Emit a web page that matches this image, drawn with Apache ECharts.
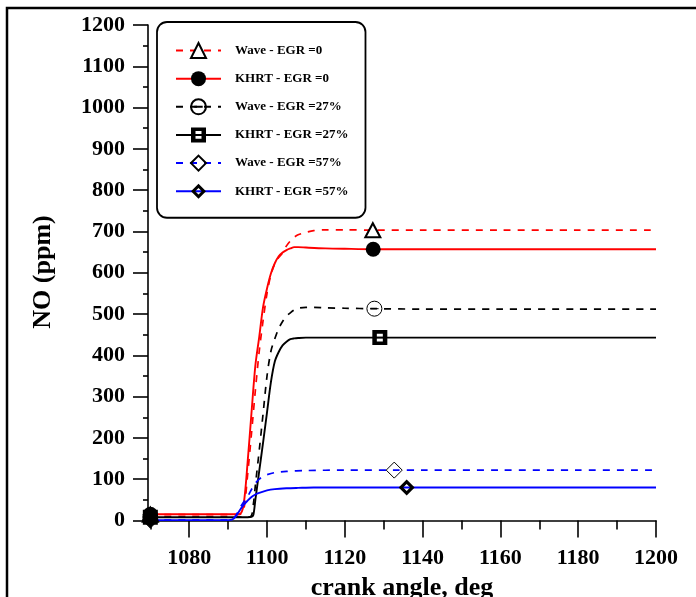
<!DOCTYPE html>
<html>
<head>
<meta charset="utf-8">
<script src="https://cdn.jsdelivr.net/npm/echarts@6/dist/echarts.min.js"></script>
<style>
  html, body { margin: 0; padding: 0; background: #fff; }
  #chart { width: 696px; height: 597px; }
</style>
</head>
<body>
<div id="chart"></div>
<script>
// NO concentration vs crank angle for three EGR rates, Wave and KHRT breakup models

const seriesNames = [
  'Wave - EGR =0', 'KHRT - EGR =0',
  'Wave - EGR =27%', 'KHRT - EGR =27%',
  'Wave - EGR =57%', 'KHRT - EGR =57%'
];

const xMajorTicks = [1080, 1100, 1120, 1140, 1160, 1180, 1200];
const xMinorTicks = [1070, 1090, 1110, 1130, 1150, 1170, 1190];

// Wave - EGR = 0
const waveEgr0Angle = [1070, 1080, 1090, 1093, 1094, 1095, 1096, 1097, 1098, 1099, 1100, 1101, 1102, 1103, 1104, 1105, 1106, 1107, 1108, 1110, 1112, 1115, 1120, 1127.2, 1140, 1160, 1180, 1200];
const waveEgr0NO    = [14, 14, 14, 15, 25, 110, 210, 315, 410, 485, 550, 595, 622, 637, 648, 665, 677, 686, 692, 698, 702, 704, 704, 703, 703, 703, 703, 703];
const waveEgr0Marks = [1070, 1127.2];

// KHRT - EGR = 0
const khrtEgr0Angle = [1070, 1080, 1090, 1093, 1094, 1095, 1096, 1097, 1098, 1099, 1100, 1101, 1102, 1103, 1104, 1105, 1106, 1107, 1108, 1110, 1115, 1120, 1127.3, 1140, 1160, 1180, 1200];
const khrtEgr0NO    = [15, 15, 15, 16, 40, 140, 260, 375, 445, 518, 562, 598, 623, 640, 649, 655, 659, 662, 662, 661, 659, 658, 657, 657, 657, 657, 657];
const khrtEgr0Marks = [1070, 1127.3];

// Wave - EGR = 27%
const waveEgr27Angle = [1070, 1080, 1090, 1095, 1096, 1096.5, 1097, 1098, 1099, 1100, 1101, 1102, 1103, 1104, 1105, 1106, 1107, 1108, 1110, 1112, 1115, 1120, 1127.6, 1140, 1160, 1180, 1200];
const waveEgr27NO    = [8, 8, 8, 8, 12, 40, 85, 170, 260, 350, 410, 440, 465, 482, 495, 503, 510, 514, 516, 516, 515, 514, 513, 512, 512, 512, 512];
const waveEgr27Marks = [1070, 1127.6];

// KHRT - EGR = 27%
const khrtEgr27Angle = [1070, 1080, 1090, 1095, 1096, 1096.5, 1097, 1098, 1099, 1100, 1101, 1102, 1103, 1104, 1105, 1106, 1107, 1108, 1110, 1115, 1129, 1140, 1160, 1180, 1200];
const khrtEgr27NO    = [8, 8, 8, 8, 9, 14, 50, 120, 190, 262, 335, 385, 408, 424, 433, 439, 441, 442, 443, 443, 443, 443, 443, 443, 443];
const khrtEgr27Marks = [1070, 1129];

// Wave - EGR = 57%
const waveEgr57Angle = [1070, 1080, 1090, 1091, 1092, 1093, 1094, 1095, 1096, 1097, 1098, 1099, 1100, 1102, 1105, 1110, 1120, 1132.7, 1140, 1160, 1180, 1200];
const waveEgr57NO    = [1, 1, 1, 2, 12, 30, 45, 58, 75, 90, 100, 107, 111, 116, 119, 121, 122, 122, 122, 122, 122, 122];
const waveEgr57Marks = [1070, 1132.7];

// KHRT - EGR = 57%
const khrtEgr57Angle = [1070, 1080, 1090, 1091, 1092, 1093, 1094, 1095, 1096, 1097, 1098, 1100, 1102, 1105, 1108, 1112, 1120, 1135.9, 1140, 1160, 1180, 1200];
const khrtEgr57NO    = [1, 1, 1, 2, 10, 25, 38, 48, 57, 63, 67, 73, 76, 78, 79, 80, 80, 80, 80, 80, 80, 80];
const khrtEgr57Marks = [1070, 1135.9];

const SERIF = '"Liberation Serif", "Times New Roman", serif';

// open circle with a bar, filled square with two windows, filled diamond with a window
const SYM_CIRCLE_BAR = 'path://M0,5A5,5,0,1,1,10,5A5,5,0,1,1,0,5ZM2.2,5L7.8,5';
const SYM_SQUARE_WIN = 'path://M0,0H10V10H0ZM3,2.4V4.5H7V2.4ZM3,5.5V7.6H7V5.5Z';
const SYM_DIAMOND_WIN = 'path://M5,0L10,5L5,10L0,5ZM5,2.8L2.8,5L5,7.2L7.2,5Z';

function buildData(angles, values, marks) {
  return angles.map(function (a, i) {
    if (marks.indexOf(a) >= 0) return { value: [a, values[i]] };
    return { value: [a, values[i]], symbol: 'none' };
  });
}

function makeSeries(name, angles, values, marks, color, dashed, symbol, symbolSize, itemStyle) {
  return {
    name: name,
    type: 'line',
    data: buildData(angles, values, marks),
    symbol: symbol,
    symbolSize: symbolSize,
    symbolKeepAspect: true,
    showSymbol: true,
    showAllSymbol: true,
    smooth: 0.3,
    lineStyle: { color: color, width: dashed ? 1.7 : 1.9, type: dashed ? [7, 7] : 'solid' },
    itemStyle: itemStyle,
    emphasis: { disabled: true },
    z: 2
  };
}

const series = [
  makeSeries(seriesNames[0], waveEgr0Angle, waveEgr0NO, waveEgr0Marks, '#ff0000', true,
    'triangle', [15, 14], { color: '#fff', borderColor: '#000', borderWidth: 2 }),
  makeSeries(seriesNames[1], khrtEgr0Angle, khrtEgr0NO, khrtEgr0Marks, '#ff0000', false,
    'circle', 15, { color: '#000', borderWidth: 0 }),
  makeSeries(seriesNames[2], waveEgr27Angle, waveEgr27NO, waveEgr27Marks, '#000', true,
    SYM_CIRCLE_BAR, 15, { color: 'rgba(0,0,0,0)', borderColor: '#000', borderWidth: 1 }),
  makeSeries(seriesNames[3], khrtEgr27Angle, khrtEgr27NO, khrtEgr27Marks, '#000', false,
    SYM_SQUARE_WIN, 15, { color: '#000', borderWidth: 0 }),
  makeSeries(seriesNames[4], waveEgr57Angle, waveEgr57NO, waveEgr57Marks, '#0000ff', true,
    'diamond', 16, { color: 'rgba(0,0,0,0)', borderColor: '#000', borderWidth: 1 }),
  makeSeries(seriesNames[5], khrtEgr57Angle, khrtEgr57NO, khrtEgr57Marks, '#0000ff', false,
    SYM_DIAMOND_WIN, 16, { color: '#000', borderWidth: 0 })
];

const plainNumber = function (v) { return String(v); };

const chart = echarts.init(document.getElementById('chart'), null, { renderer: 'canvas' });

chart.setOption({
  animation: false,
  backgroundColor: '#fff',
  grid: { left: 148, right: 40, top: 25, bottom: 76.5, containLabel: false },
  xAxis: [{
    type: 'value',
    min: 1069.4,
    max: 1200,
    position: 'bottom',
    axisLine: { onZero: false, lineStyle: { color: '#000', width: 1.6 } },
    axisTick: { show: true, customValues: xMajorTicks, length: 17, lineStyle: { color: '#000', width: 1.6 } },
    axisLabel: {
      customValues: xMajorTicks, margin: 27, color: '#000', formatter: plainNumber,
      fontFamily: SERIF, fontWeight: 'bold', fontSize: 22
    },
    splitLine: { show: false }
  }, {
    type: 'value',
    min: 1069.4,
    max: 1200,
    position: 'bottom',
    axisLine: { show: false },
    axisTick: { show: true, customValues: xMinorTicks, length: 9, lineStyle: { color: '#000', width: 1.6 } },
    axisLabel: { show: false },
    splitLine: { show: false }
  }],
  yAxis: {
    type: 'value',
    min: 0,
    max: 1200,
    interval: 100,
    axisLine: { show: true, onZero: false, lineStyle: { color: '#000', width: 1.6 } },
    axisTick: { show: true, length: 15, lineStyle: { color: '#000', width: 1.6 } },
    minorTick: { show: true, splitNumber: 2, length: 5, lineStyle: { color: '#000', width: 1.6 } },
    axisLabel: {
      margin: 23, color: '#000', formatter: plainNumber,
      fontFamily: SERIF, fontWeight: 'bold', fontSize: 22
    },
    splitLine: { show: false }
  },
  legend: {
    data: seriesNames,
    orient: 'vertical',
    left: 157,
    top: 22,
    padding: [20, 17, 19, 18],
    itemWidth: 45,
    itemHeight: 18.75,
    itemGap: 12.15,
    backgroundColor: '#fff',
    borderColor: '#000',
    borderWidth: 1.8,
    borderRadius: 10,
    textStyle: {
      color: '#000', fontFamily: SERIF, fontWeight: 'bold', fontSize: 13,
      padding: [0, 0, 0, 9]
    },
    selectedMode: false
  },
  graphic: [
    {
      type: 'rect',
      shape: { x: 7, y: 8, width: 900, height: 900 },
      style: { fill: 'none', stroke: '#000', lineWidth: 2.5 },
      silent: true,
      z: 0
    },
    {
      type: 'text',
      x: 402,
      y: 588,
      style: {
        text: 'crank angle, deg', fill: '#000',
        font: 'bold 26px ' + SERIF, align: 'center', verticalAlign: 'middle'
      },
      silent: true
    },
    {
      type: 'text',
      x: 43,
      y: 272,
      rotation: Math.PI / 2,
      style: {
        text: 'NO (ppm)', fill: '#000',
        font: 'bold 26px ' + SERIF, align: 'center', verticalAlign: 'middle'
      },
      silent: true
    }
  ],
  series: series
});
</script>
</body>
</html>
